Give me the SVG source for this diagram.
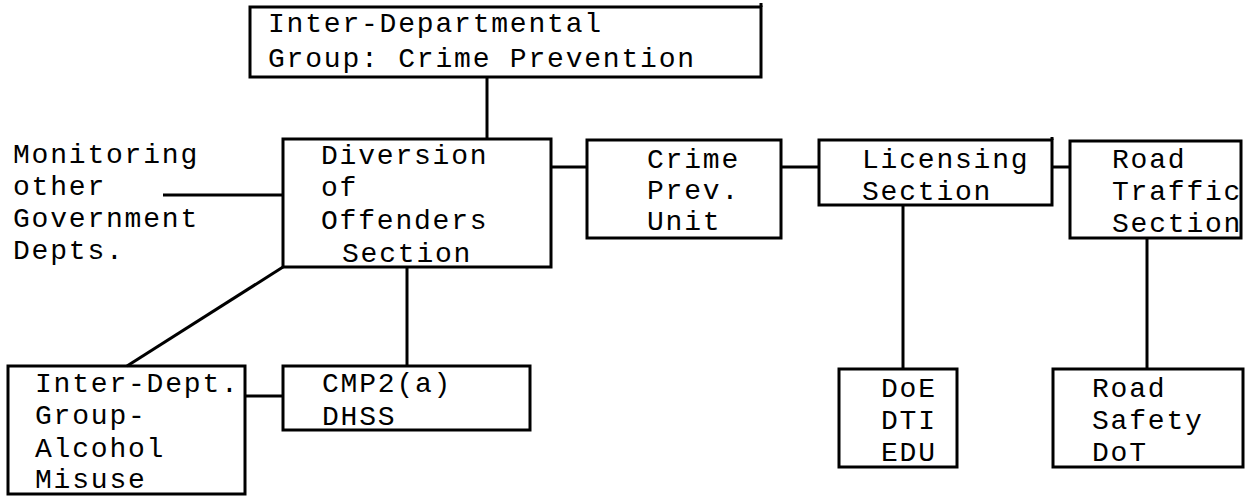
<svg xmlns="http://www.w3.org/2000/svg" width="1253" height="496" viewBox="0 0 1253 496">
<style>
.box{fill:none;stroke:#000;stroke-width:3}
.ln{stroke:#000;stroke-width:3;fill:none}
text{font-family:"Liberation Mono","Courier New",monospace;font-size:28px;letter-spacing:1.8px;fill:#000}
</style>
<rect width="1253" height="496" fill="#fff"/>
<g id="connectors">
<line class="ln" x1="487" y1="77" x2="487" y2="139"/>
<line class="ln" x1="163" y1="195" x2="283" y2="195"/>
<line class="ln" x1="551" y1="167" x2="587" y2="167"/>
<line class="ln" x1="781" y1="167" x2="819" y2="167"/>
<line class="ln" x1="1052" y1="167" x2="1070" y2="167"/>
<line class="ln" x1="903" y1="205" x2="903" y2="369"/>
<line class="ln" x1="1147" y1="238" x2="1147" y2="369"/>
<line class="ln" x1="407" y1="267" x2="407" y2="366"/>
<line class="ln" x1="283" y1="267" x2="127" y2="366"/>
<line class="ln" x1="245" y1="396" x2="283" y2="396"/>
</g>
<g id="n_idg">
<rect class="box" x="250" y="7" width="511" height="70"/>
<line class="ln" x1="761" y1="3" x2="761" y2="7"/>
<text x="268" y="32">Inter-Departmental</text>
<text x="268" y="67">Group: Crime Prevention</text>
</g>
<g id="n_monitoring">
<text x="13" y="163">Monitoring</text>
<text x="13" y="195">other</text>
<text x="13" y="227">Government</text>
<text x="13" y="259">Depts.</text>
</g>
<g id="n_diversion">
<rect class="box" x="283" y="139" width="268" height="128"/>
<text x="321" y="164">Diversion</text>
<text x="321" y="196">of</text>
<text x="321" y="229">Offenders</text>
<text x="342" y="262">Section</text>
</g>
<g id="n_crime">
<rect class="box" x="587" y="140" width="194" height="98"/>
<text x="647" y="168">Crime</text>
<text x="647" y="199">Prev.</text>
<text x="647" y="230">Unit</text>
</g>
<g id="n_licensing">
<rect class="box" x="819" y="140" width="233" height="65"/>
<line class="ln" x1="1052" y1="137" x2="1052" y2="140"/>
<text x="862" y="168">Licensing</text>
<text x="862" y="200">Section</text>
</g>
<g id="n_road">
<rect class="box" x="1070" y="141" width="171" height="97"/>
<text x="1112" y="168">Road</text>
<text x="1112" y="200">Traffic</text>
<text x="1112" y="232">Section</text>
</g>
<g id="n_doe">
<rect class="box" x="839" y="369" width="118" height="98"/>
<text x="881" y="397">DoE</text>
<text x="881" y="429">DTI</text>
<text x="881" y="461">EDU</text>
</g>
<g id="n_roadsafety">
<rect class="box" x="1053" y="369" width="190" height="98"/>
<text x="1092" y="397">Road</text>
<text x="1092" y="429">Safety</text>
<text x="1092" y="461">DoT</text>
</g>
<g id="n_cmp2">
<rect class="box" x="283" y="366" width="247" height="64"/>
<text x="322" y="392">CMP2(a)</text>
<text x="322" y="425">DHSS</text>
</g>
<g id="n_alcohol">
<rect class="box" x="8" y="366" width="237" height="128"/>
<text x="35" y="392">Inter-Dept.</text>
<text x="35" y="424">Group-</text>
<text x="35" y="457">Alcohol</text>
<text x="35" y="488">Misuse</text>
</g>
</svg>
